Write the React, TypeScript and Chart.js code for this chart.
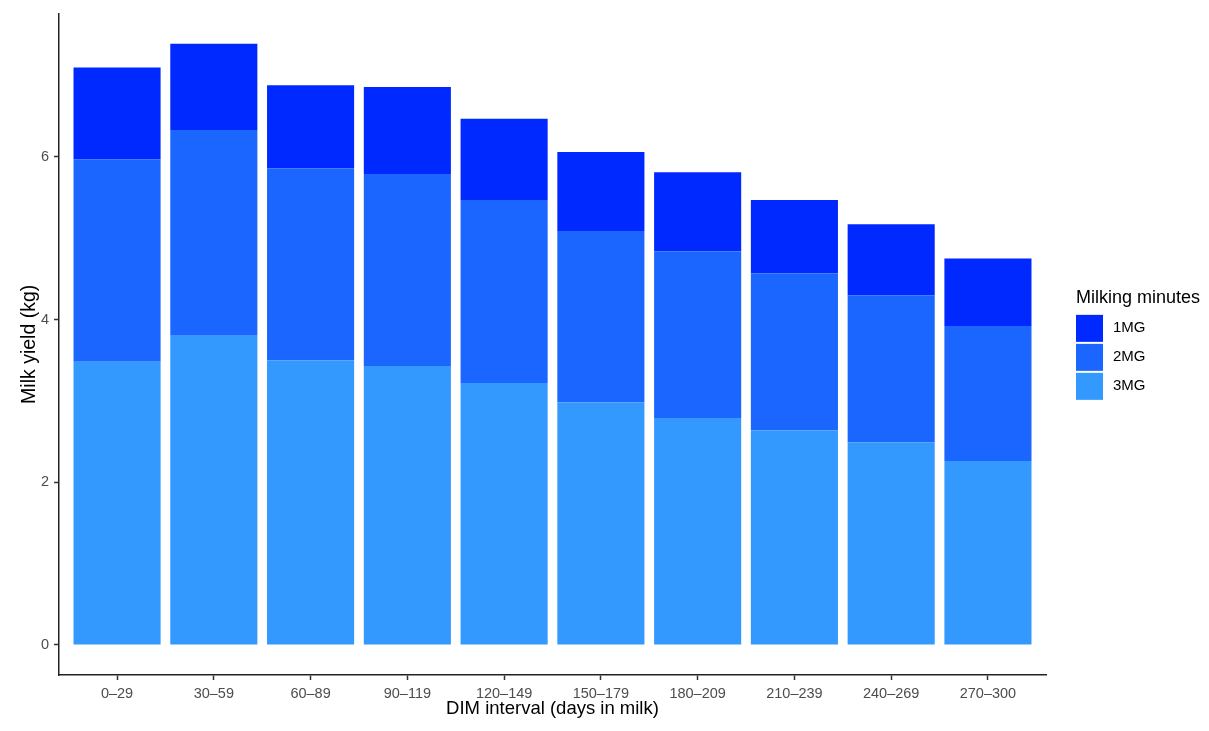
import React, { useEffect, useRef } from "react";
import { Chart, registerables } from "chart.js";

Chart.register(...registerables);

const categories = [
  "0–29",
  "30–59",
  "60–89",
  "90–119",
  "120–149",
  "150–179",
  "180–209",
  "210–239",
  "240–269",
  "270–300",
];

// stacked from the bottom up: 3MG, 2MG, 1MG
const mg3 = [3.48, 3.8, 3.5, 3.43, 3.22, 2.98, 2.79, 2.64, 2.49, 2.26];
const mg2 = [2.49, 2.53, 2.36, 2.36, 2.25, 2.11, 2.05, 1.93, 1.81, 1.66];
const mg1 = [1.13, 1.06, 1.02, 1.07, 1.0, 0.97, 0.97, 0.9, 0.87, 0.83];

const yTicks = [0, 2, 4, 6];

const legendTitle = "Milking minutes";
const fontFamily = '"Liberation Sans", Arial, Helvetica, sans-serif';

// ggplot-style legend drawn to the right of the panel
const legendPlugin = {
  id: "ggLegend",
  afterDraw(chart: Chart) {
    const { ctx, chartArea } = chart;
    const midY = (chartArea.top + chartArea.bottom) / 2;
    const x = chartArea.right + 30;
    ctx.save();
    ctx.textBaseline = "middle";
    ctx.textAlign = "left";
    ctx.fillStyle = "#000";
    ctx.font = `18px ${fontFamily}`;
    ctx.fillText(legendTitle, x, midY - 46.5);
    ctx.font = `15px ${fontFamily}`;
    const sets = [...chart.data.datasets].reverse();
    sets.forEach((ds, i) => {
      const top = midY - 29.5 + i * 29;
      ctx.fillStyle = ds.backgroundColor as string;
      ctx.fillRect(x, top, 27, 27);
      ctx.fillStyle = "#000";
      ctx.fillText(ds.label as string, x + 37, top + 13.5);
    });
    ctx.restore();
  },
};

const App: React.FC = () => {
  const canvasRef = useRef<HTMLCanvasElement>(null);
  const chartRef = useRef<Chart>();

  useEffect(() => {
    document.body.style.margin = "0";
    if (!canvasRef.current) return;

    chartRef.current = new Chart(canvasRef.current, {
      type: "bar",
      data: {
        labels: categories,
        datasets: [
          { label: "3MG", data: mg3, backgroundColor: "#3399ff" },
          { label: "2MG", data: mg2, backgroundColor: "#1a66ff" },
          { label: "1MG", data: mg1, backgroundColor: "#0029ff" },
        ],
      },
      options: {
        responsive: false,
        animation: false,
        events: [],
        layout: { padding: { top: 12, left: 0, right: 163, bottom: 0 } },
        datasets: {
          bar: { barPercentage: 0.9, categoryPercentage: 1.0, borderWidth: 0 },
        },
        plugins: {
          legend: { display: false },
          tooltip: { enabled: false },
        },
        scales: {
          x: {
            stacked: true,
            offset: false,
            afterBuildTicks: (scale: any) => {
              // discrete expansion of 0.6 on both ends, like ggplot
              scale._startValue = -0.6;
              scale._valueRange = categories.length - 1 + 1.2;
            },
            afterFit: (scale: any) => {
              scale.height = 56;
            },
            grid: {
              offset: false,
              drawOnChartArea: false,
              drawTicks: true,
              tickLength: 5,
              tickColor: "#333",
              tickWidth: 1.5,
            },
            border: { display: true, color: "#222", width: 1.5 },
            ticks: {
              color: "#4d4d4d",
              font: { family: fontFamily, size: 14.5 },
              padding: 5,
              maxRotation: 0,
              autoSkip: false,
            },
            title: {
              display: true,
              text: "DIM interval (days in milk)",
              color: "#000",
              font: { family: fontFamily, size: 18.5 },
              padding: { top: 0, bottom: 11 },
            },
          },
          y: {
            stacked: true,
            min: -0.37,
            max: 7.76,
            afterBuildTicks: (scale: any) => {
              scale.ticks = yTicks.map((v) => ({ value: v }));
            },
            afterFit: (scale: any) => {
              scale.width = 59;
            },
            grid: {
              drawOnChartArea: false,
              drawTicks: true,
              tickLength: 5,
              tickColor: "#333",
              tickWidth: 1.5,
            },
            border: { display: true, color: "#222", width: 1.5 },
            ticks: {
              color: "#4d4d4d",
              font: { family: fontFamily, size: 14.5 },
              padding: 5,
            },
            title: {
              display: true,
              text: "Milk yield (kg)",
              color: "#000",
              font: { family: fontFamily, size: 19.5 },
              padding: { top: 18, bottom: 0 },
            },
          },
        },
      },
      plugins: [legendPlugin],
    });

    return () => {
      if (chartRef.current) {
        chartRef.current.destroy();
      }
    };
  }, []);

  return <canvas ref={canvasRef} width={1209} height={731} />;
};

export default App;
